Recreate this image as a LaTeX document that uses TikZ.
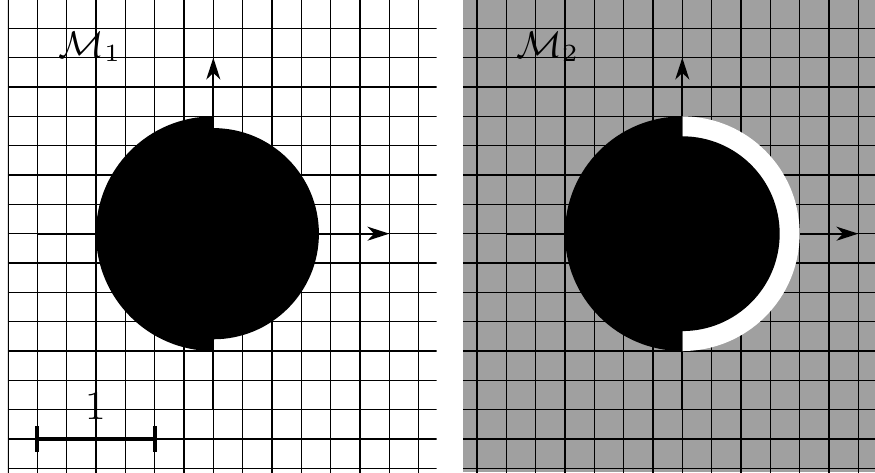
\documentclass[tikz,border=0pt]{standalone}
\usetikzlibrary{arrows.meta}
\definecolor{panelgray}{RGB}{160,160,160}
\begin{document}
\begin{tikzpicture}[
  gridline/.style={line width=0.3pt, black},
  axisline/.style={line width=0.4pt, -{Stealth[length=5.3pt,width=3.4pt,inset=1.6pt]}},
  disk/.style={fill=black},
  gap/.style={fill=white},
  lbl/.style={inner sep=0pt, font=\fontsize{9}{11}\selectfont},
  unitlbl/.style={inner sep=0pt, font=\fontsize{10}{12}\selectfont},
  barline/.style={line width=0.9pt},
]
\useasboundingbox (0,0) rectangle (7.4575,4.0228);
\fill[white] (0,0) rectangle (7.4575,4.0228);
% ---------------- left panel ----------------
\begin{scope}[shift={(1.818,2.031)}]
  \begin{scope}
    \clip (-1.75,-2.031) rectangle (1.904,1.992);
    \foreach \i in {-7,...,7} \draw[gridline] (\i*0.25,-2.1) -- (\i*0.25,2.1);
    \foreach \j in {-8,...,7} \draw[gridline] (-1.75,\j*0.25) -- (1.904,\j*0.25);
  \end{scope}
  \coordinate (L-w) at (-1.5,0);
  \coordinate (L-e) at (1.5,0);
  \coordinate (L-s) at (0,-1.5);
  \coordinate (L-n) at (0,1.5);
  \draw[axisline] (L-w) -- (L-e);
  \draw[axisline] (L-s) -- (L-n);
  \fill[disk] (0,1) arc[start angle=90,end angle=270,radius=1]
     -- (0,-0.9) arc[start angle=-90,end angle=90,radius=0.9] -- cycle;
  \node[lbl] (M1) at (-1.05,1.59) {$\mathcal{M}_1$};
  \coordinate (bar-l) at (-1.5,-1.75);
  \coordinate (bar-r) at (-0.5,-1.75);
  \draw[barline] (bar-l) -- (bar-r);
  \draw[barline] ([yshift=-0.11cm]bar-l) -- ([yshift=0.11cm]bar-l);
  \draw[barline] ([yshift=-0.11cm]bar-r) -- ([yshift=0.11cm]bar-r);
  \node[unitlbl] (unit) at (-1.0,-1.47) {1};
\end{scope}
% ---------------- right panel ----------------
\begin{scope}[shift={(5.815,2.031)}]
  \fill[panelgray] (-1.871,-2.031) rectangle (1.6425,1.992);
  \begin{scope}
    \clip (-1.871,-2.031) rectangle (1.6425,1.992);
    \foreach \i in {-7,...,6} \draw[gridline] (\i*0.25,-2.1) -- (\i*0.25,2.1);
    \foreach \j in {-8,...,7} \draw[gridline] (-1.871,\j*0.25) -- (1.6425,\j*0.25);
  \end{scope}
  \coordinate (R-w) at (-1.5,0);
  \coordinate (R-e) at (1.5,0);
  \coordinate (R-s) at (0,-1.5);
  \coordinate (R-n) at (0,1.5);
  \draw[axisline] (R-w) -- (R-e);
  \draw[axisline] (R-s) -- (R-n);
  \fill[gap] (0,-1) arc[start angle=-90,end angle=90,radius=1] -- cycle;
  \fill[disk] (0,1) arc[start angle=90,end angle=270,radius=1]
     -- (0,-0.83) arc[start angle=-90,end angle=90,radius=0.83] -- cycle;
  \node[lbl] (M2) at (-1.145,1.59) {$\mathcal{M}_2$};
\end{scope}
\end{tikzpicture}
\end{document}
